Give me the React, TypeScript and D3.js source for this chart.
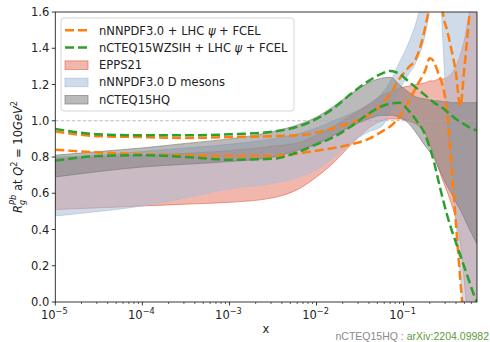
import React from 'react';
import * as d3 from 'd3';

// shared x grid (Bjorken x)
const xGrid = [1e-5, 3.16e-5, 1e-4, 3.16e-4, 1e-3, 3.16e-3, 6.31e-3, 1e-2, 0.0158, 0.0251, 0.0398, 0.0562, 0.0708, 0.0891, 0.112, 0.141, 0.178, 0.2, 0.224, 0.251, 0.282, 0.316, 0.355, 0.398, 0.447, 0.501, 0.562, 0.631, 0.697];

// nNNPDF3.0 + LHC psi + FCEL (dashed orange, two edges)
const orangeUpper = [0.94, 0.915, 0.91, 0.905, 0.91, 0.915, 0.92, 0.935, 0.96, 0.99, 1.03, 1.09, 1.15, 1.23, 1.29, 1.35, 1.52, 1.65, 1.85, 1.9, 1.6, 1.5, 1.39, 1.27, 1.08, 1.3, 1.55, 1.8, 2.0];
const orangeLower = [0.84, 0.825, 0.815, 0.81, 0.805, 0.805, 0.82, 0.835, 0.85, 0.87, 0.9, 0.94, 0.97, 1.02, 1.1, 1.19, 1.28, 1.345, 1.325, 1.26, 1.19, 1.05, 0.76, 0.44, 0.13, -0.15, -0.4, -0.6, -0.8];

// nCTEQ15WZSIH + LHC psi + FCEL (dashed green, two edges)
const greenUpper = [0.955, 0.925, 0.92, 0.92, 0.925, 0.94, 0.97, 1.01, 1.07, 1.15, 1.22, 1.26, 1.275, 1.26, 1.22, 1.18, 1.14, 1.12, 1.1, 1.085, 1.07, 1.05, 1.03, 1.01, 0.995, 0.98, 0.965, 0.955, 0.945];
const greenLower = [0.78, 0.805, 0.81, 0.8, 0.785, 0.79, 0.83, 0.87, 0.91, 0.97, 1.04, 1.08, 1.095, 1.1, 1.06, 1.0, 0.92, 0.85, 0.77, 0.67, 0.57, 0.48, 0.4, 0.33, 0.26, 0.19, 0.12, 0.05, 0.0];

// EPPS21 band
const eppsLower = [0.51, 0.52, 0.53, 0.54, 0.55, 0.575, 0.625, 0.69, 0.77, 0.87, 0.96, 1.0, 1.01, 1.01, 1.0, 0.98, 0.93, 0.87, 0.81, 0.74, 0.67, 0.61, 0.54, 0.46, 0.33, 0.1, -0.15, -0.3, -0.4];
const eppsUpper = [0.79, 0.8, 0.81, 0.82, 0.835, 0.86, 0.88, 0.92, 0.97, 1.03, 1.09, 1.14, 1.16, 1.18, 1.19, 1.2, 1.21, 1.22, 1.22, 1.23, 1.23, 1.24, 1.26, 1.3, 1.36, 1.45, 1.58, 1.7, 1.8];

// nNNPDF3.0 D mesons band
const dmesLower = [0.475, 0.5, 0.53, 0.575, 0.625, 0.655, 0.69, 0.73, 0.8, 0.88, 0.94, 0.97, 1.06, 1.17, 1.25, 1.33, 1.48, 1.62, 1.85, 1.9, 1.45, 1.02, 0.74, 0.45, 0.16, -0.08, -0.25, -0.35, -0.4];
const dmesUpper = [0.8, 0.81, 0.83, 0.85, 0.87, 0.9, 0.93, 0.96, 1.0, 1.04, 1.09, 1.15, 1.22, 1.32, 1.42, 1.55, 1.75, 1.85, 1.95, 2.0, 2.05, 2.1, 2.1, 2.15, 2.2, 2.2, 2.25, 2.3, 2.3];

// nCTEQ15HQ band
const hqLower = [0.69, 0.72, 0.745, 0.76, 0.775, 0.8, 0.84, 0.87, 0.92, 0.97, 1.01, 1.03, 1.03, 1.02, 0.99, 0.93, 0.86, 0.83, 0.79, 0.74, 0.69, 0.64, 0.6, 0.55, 0.51, 0.46, 0.41, 0.36, 0.32];
const hqUpper = [0.81, 0.83, 0.85, 0.875, 0.9, 0.94, 0.98, 1.02, 1.08, 1.15, 1.21, 1.235, 1.24, 1.2, 1.16, 1.13, 1.12, 1.115, 1.11, 1.11, 1.105, 1.105, 1.1, 1.1, 1.1, 1.1, 1.1, 1.1, 1.1];

const yTicks = [0.0, 0.2, 0.4, 0.6, 0.8, 1.0, 1.2, 1.4, 1.6];
const xTickExps = [-5, -4, -3, -2, -1];
const legendLabels = ['nNNPDF3.0 + LHC ', 'nCTEQ15WZSIH + LHC ', 'EPPS21', 'nNNPDF3.0 D mesons', 'nCTEQ15HQ'];

const ORANGE = '#ff7f0e';
const GREEN = '#2ca02c';
const EPPS = { fill: '#e2664e', op: 0.47 };
const DMES = { fill: '#a9bed9', op: 0.55 };
const HQ = { fill: '#7a7a7a', op: 0.52 };

const L = 55.3, R = 477, T = 12, B = 302;
const FONT = 'DejaVu Sans, sans-serif';

export default function App() {
  const x = d3.scaleLog().domain([1e-5, 0.697]).range([L, R]);
  const y = d3.scaleLinear().domain([0, 1.6]).range([B, T]);

  const area = (lo: number[], hi: number[]) =>
    d3.area<number>()
      .x((d) => x(d))
      .y0((_, i) => y(lo[i]))
      .y1((_, i) => y(hi[i]))
      .curve(d3.curveMonotoneX)(xGrid) || '';
  const line = (v: number[]) =>
    d3.line<number>()
      .x((d) => x(d))
      .y((_, i) => y(v[i]))
      .curve(d3.curveMonotoneX)(xGrid) || '';

  const minor: number[] = [];
  for (let k = -5; k <= -1; k++) {
    for (let m = 2; m <= 9; m++) {
      const v = m * Math.pow(10, k);
      if (v <= 0.697) minor.push(v);
    }
  }

  const bands = [
    { lo: eppsLower, hi: eppsUpper, s: EPPS },
    { lo: dmesLower, hi: dmesUpper, s: DMES },
    { lo: hqLower, hi: hqUpper, s: HQ },
  ];

  const legY = [30.3, 47.6, 64.9, 82.2, 99.5];

  return (
    <svg width={490} height={342} style={{ position: 'absolute', left: 0, top: 0, background: '#fff' }} fontFamily={FONT}>
      <defs>
        <clipPath id="plotclip">
          <rect x={L} y={T} width={R - L} height={B - T} />
        </clipPath>
      </defs>
      <rect x={0} y={0} width={490} height={342} fill="#fff" />
      <g clipPath="url(#plotclip)">
        {bands.map((b, i) => (
          <path key={i} d={area(b.lo, b.hi)} fill={b.s.fill} fillOpacity={b.s.op}
            stroke={b.s.fill} strokeOpacity={0.8} strokeWidth={0.8} />
        ))}
        <line x1={L} x2={R} y1={y(1)} y2={y(1)} stroke="#aaa" strokeWidth={0.8} strokeDasharray="3.5,2" />
        {[orangeUpper, orangeLower].map((v, i) => (
          <path key={'o' + i} d={line(v)} fill="none" stroke={ORANGE} strokeWidth={2.5} strokeDasharray="9,4" />
        ))}
        {[greenUpper, greenLower].map((v, i) => (
          <path key={'g' + i} d={line(v)} fill="none" stroke={GREEN} strokeWidth={2.5} strokeDasharray="9,4" />
        ))}
      </g>

      {/* axes frame */}
      <rect x={L} y={T} width={R - L} height={B - T} fill="none" stroke="#222" strokeWidth={0.9} />

      {/* y ticks */}
      {yTicks.map((t) => (
        <g key={t}>
          <line x1={L - 3.5} x2={L} y1={y(t)} y2={y(t)} stroke="#222" strokeWidth={0.9} />
          <text x={L - 6} y={y(t)} dy="0.36em" textAnchor="end" fontSize={11.5} fill="#222">{t.toFixed(1)}</text>
        </g>
      ))}

      {/* x ticks */}
      {minor.map((v, i) => (
        <line key={'m' + i} x1={x(v)} x2={x(v)} y1={B} y2={B + 2} stroke="#222" strokeWidth={0.7} />
      ))}
      {xTickExps.map((e) => (
        <g key={e}>
          <line x1={x(Math.pow(10, e))} x2={x(Math.pow(10, e))} y1={B} y2={B + 3.5} stroke="#222" strokeWidth={0.9} />
          <text x={x(Math.pow(10, e)) - 1} y={318.5} textAnchor="middle" fontSize={11.5} fill="#222">
            10<tspan fontSize={8.2} dy={-5}>{'\u2212' + Math.abs(e)}</tspan>
          </text>
        </g>
      ))}

      {/* axis labels */}
      <text x={266} y={333} textAnchor="middle" fontSize={11.5} fill="#222">x</text>
      <text transform="translate(21.5,157) rotate(-90)" textAnchor="middle" fontSize={11.5} fill="#222">
        <tspan fontStyle="italic">R</tspan>
        <tspan fontStyle="italic" fontSize={8.2} dy={3}>g</tspan>
        <tspan fontStyle="italic" fontSize={8.2} dx={-5} dy={-8.5}>Pb</tspan>
        <tspan dy={5.5}>{' at '}</tspan>
        <tspan fontStyle="italic">Q</tspan>
        <tspan fontSize={8.2} dy={-5}>2</tspan>
        <tspan dy={5}>{' = 10'}</tspan>
        <tspan fontStyle="italic">GeV</tspan>
        <tspan fontSize={8.2} dy={-5}>2</tspan>
      </text>

      {/* legend */}
      <rect x={61} y={18} width={233} height={93} rx={3} fill="#fff" fillOpacity={0.8} stroke="#ccc" strokeWidth={0.8} />
      {legendLabels.map((lab, i) => {
        const cy = legY[i];
        let handle;
        if (i === 0 || i === 1) {
          handle = <line x1={65} x2={88} y1={cy} y2={cy} stroke={i === 0 ? ORANGE : GREEN} strokeWidth={2.5} strokeDasharray="9,4" />;
        } else {
          const s = [EPPS, DMES, HQ][i - 2];
          handle = <rect x={65} y={cy - 4} width={23} height={8.5} fill={s.fill} fillOpacity={s.op} stroke={s.fill} strokeOpacity={0.8} strokeWidth={0.8} />;
        }
        return (
          <g key={lab}>
            {handle}
            <text x={99} y={cy + 4.2} fontSize={11.5} fill="#222">
              {lab}
              {i < 2 ? <tspan fontStyle="italic">{'\u03c8'}</tspan> : null}
              {i < 2 ? ' + FCEL' : null}
            </text>
          </g>
        );
      })}

      {/* footer credit */}
      <text x={489} y={339.5} textAnchor="end" fontSize={10.5} fontFamily="Liberation Sans, Arial, sans-serif">
        <tspan fill="#8a8a8a">{'nCTEQ15HQ : '}</tspan>
        <tspan fill="#5e9c3a">arXiv:2204.09982</tspan>
      </text>
    </svg>
  );
}
